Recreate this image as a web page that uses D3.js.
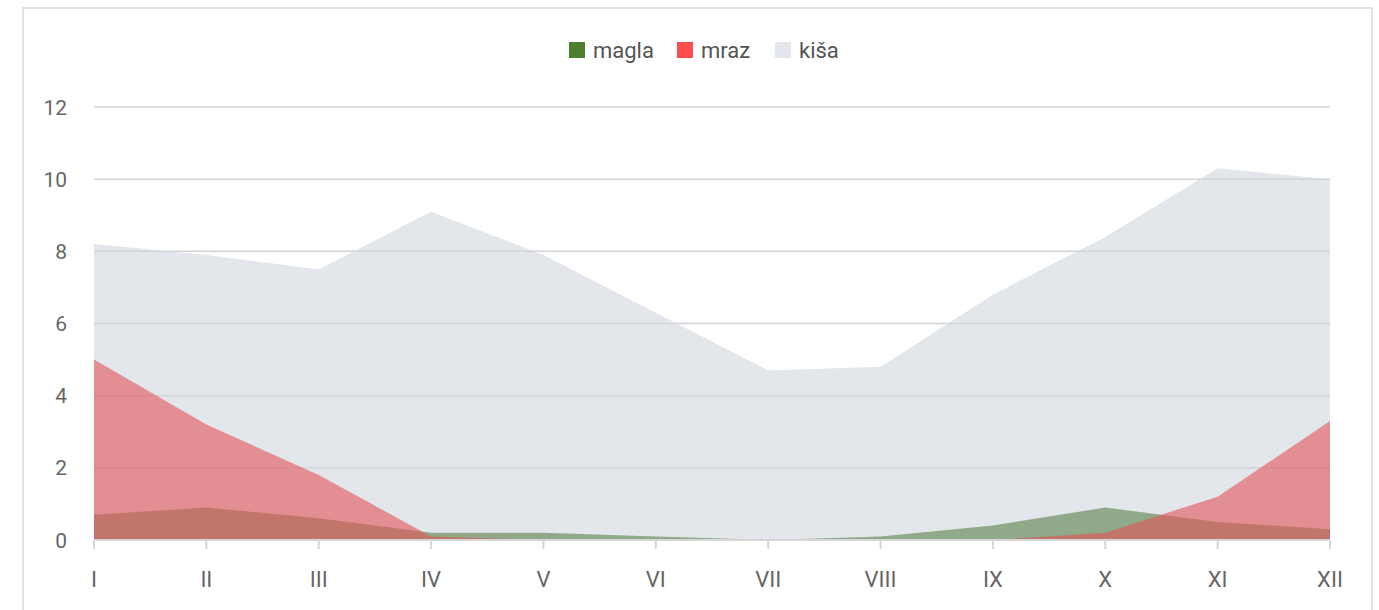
<!DOCTYPE html>
<html>
<head>
<meta charset="utf-8">
<script src="https://cdn.jsdelivr.net/npm/d3@7"></script>
<style>
    body { margin: 0; background: #fff; font-family: Roboto, "Noto Sans", sans-serif; }
    #chart { position: absolute; left: 0; top: 0; }
</style>
</head>
<body>
<div id="chart"></div>
<script>
// months
const months = ["I", "II", "III", "IV", "V", "VI", "VII", "VIII", "IX", "X", "XI", "XII"];

// series values (days)
const magla = [0.7, 0.9, 0.6, 0.2, 0.2, 0.1, 0, 0.1, 0.4, 0.9, 0.5, 0.3];
const mraz = [5.0, 3.2, 1.8, 0.1, 0, 0, 0, 0, 0, 0.2, 1.2, 3.3];
const kisa = [8.2, 7.9, 7.5, 9.1, 7.9, 6.3, 4.7, 4.8, 6.8, 8.4, 10.3, 10.0];

const yTicks = [0, 2, 4, 6, 8, 10, 12];

// drawing order: kiša at the back, mraz on top
const seriesNames = ["kiša", "magla", "mraz"];
const legendOrder = ["magla", "mraz", "kiša"];
const legendColors = { "magla": "#4e7f30", "mraz": "#ff4c4c", "kiša": "#e3e6ea" };
const areaColors = { "magla": "#57804a", "mraz": "#e25356", "kiša": "#d0d5dc" };
const areaOpacity = { "magla": 0.6, "mraz": 0.6, "kiša": 0.6 };
const seriesData = { "magla": magla, "mraz": mraz, "kiša": kisa };

const width = 1379, height = 610;
const svg = d3.select("#chart").append("svg")
    .attr("width", width)
    .attr("height", height);

// outer frame
svg.append("rect")
    .attr("x", 23).attr("y", 8)
    .attr("width", 1349).attr("height", 640)
    .attr("fill", "none")
    .attr("stroke", "#e2e2e2")
    .attr("stroke-width", 2);

const x = d3.scalePoint()
    .domain(months)
    .range([94, 1330]);

const y = d3.scaleLinear()
    .domain([0, 12])
    .range([540, 107]);

// grid lines (behind the translucent areas)
svg.append("g")
    .selectAll("line")
    .data(yTicks)
    .enter().append("line")
    .attr("x1", 94).attr("x2", 1330)
    .attr("y1", d => y(d)).attr("y2", d => y(d))
    .attr("stroke", "#d3d3d6")
    .attr("stroke-width", 1.5);

// areas
const area = d3.area()
    .x((d, i) => x(months[i]))
    .y0(y(0))
    .y1(d => y(d));

seriesNames.forEach(name => {
    svg.append("path")
        .datum(seriesData[name])
        .attr("d", area)
        .attr("fill", areaColors[name])
        .attr("fill-opacity", areaOpacity[name]);
});

// y axis labels
svg.append("g")
    .selectAll("text")
    .data(yTicks)
    .enter().append("text")
    .attr("x", 67)
    .attr("y", d => y(d))
    .attr("dy", "0.36em")
    .attr("text-anchor", "end")
    .attr("font-size", "21px")
    .attr("fill", "#666")
    .text(d => d);

// x axis line and ticks
svg.append("line")
    .attr("x1", 94).attr("x2", 1330)
    .attr("y1", y(0)).attr("y2", y(0))
    .attr("stroke", "#d6d6d6")
    .attr("stroke-width", 2);

svg.append("g")
    .selectAll("line")
    .data(months)
    .enter().append("line")
    .attr("x1", d => x(d)).attr("x2", d => x(d))
    .attr("y1", y(0)).attr("y2", y(0) + 9)
    .attr("stroke", "#d6d6d6")
    .attr("stroke-width", 2);

svg.append("g")
    .selectAll("text")
    .data(months)
    .enter().append("text")
    .attr("x", d => x(d))
    .attr("y", 587)
    .attr("text-anchor", "middle")
    .attr("font-size", "22px")
    .attr("fill", "#666")
    .text(d => d);

// legend
const legendX = [569, 677, 775];
const legend = svg.append("g")
    .selectAll("g")
    .data(legendOrder)
    .enter().append("g")
    .attr("transform", (d, i) => `translate(${legendX[i]},42)`);

legend.append("rect")
    .attr("width", 16).attr("height", 16)
    .attr("fill", d => legendColors[d]);

legend.append("text")
    .attr("x", 24)
    .attr("y", 8)
    .attr("dy", "0.36em")
    .attr("font-size", "22px")
    .attr("fill", "#555")
    .text(d => d);
</script>
</body>
</html>
